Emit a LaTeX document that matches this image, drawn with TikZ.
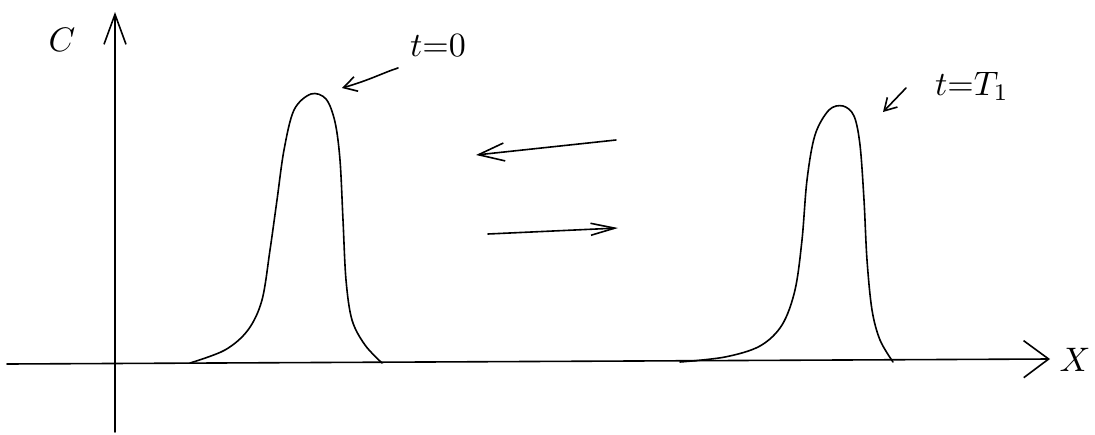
\documentclass[tikz,border=0pt]{standalone}
\usetikzlibrary{arrows.meta}
\begin{document}
\begin{tikzpicture}[x=1pt,y=-1pt,
  pen/.style={line width=1.6pt,line cap=round,line join=round},
  lbl/.style={scale=3.4,inner sep=0pt},
]
\useasboundingbox (0,0) rectangle (1095,434);
% axes
\coordinate (yb) at (115,432);
\coordinate (yt) at (115,12);
\coordinate (xl) at (7,364);
\coordinate (xr) at (1050,359);
\draw[pen,-{Straight Barb[length=30pt,width=22pt]}] (yb) -- (yt);
\draw[pen,-{Straight Barb[length=25pt,width=37pt]}] (xl) -- (xr);
\node[lbl] (C) at (62,40) {$C$};
\node[lbl] (X) at (1075,360) {$X$};
% peak at t=0
\draw[pen] plot[smooth,tension=0.55] coordinates {(190,363) (225,350) (248,330) (262,300) (270,250) (277,200) (284,150) (294,110) (311,94) (326,99) (335,122) (340,160) (343,220) (346,280) (352,320) (365,345) (382,363)};
% peak at t=T1
\draw[pen] plot[smooth,tension=0.55] coordinates {(680,362) (725,357) (760,346) (782,325) (795,290) (802,240) (807,180) (815,135) (829,110) (843,106) (854,116) (860,145) (864,200) (867,260) (872,310) (880,340) (893,362)};
% labels
\node[lbl] (t0) at (438,46) {$t{=}0$};
\node[lbl] (t1) at (972,86) {$t{=}T_{1}$};
\coordinate (q0) at (398,68);
\coordinate (p0) at (342,88);
\coordinate (q1) at (906,88);
\coordinate (p1) at (883,112);
\draw[pen,-{Straight Barb[length=13pt,width=15pt]}] (q0) .. controls (385,72) and (370,80) .. (p0);
\draw[pen,-{Straight Barb[length=12pt,width=14pt]}] (q1) -- (p1);
% middle arrows
\coordinate (a1s) at (616,140);
\coordinate (a1e) at (476,155);
\coordinate (a2s) at (488,234);
\coordinate (a2e) at (618,228);
\draw[pen,-{Straight Barb[length=26pt,width=18pt]}] (a1s) -- (a1e);
\draw[pen,-{Straight Barb[length=24pt,width=12pt]}] (a2s) -- (a2e);
\end{tikzpicture}
\end{document}
